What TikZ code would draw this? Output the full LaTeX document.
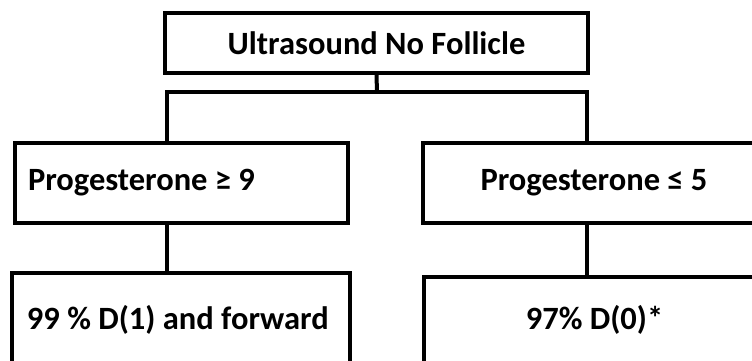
\documentclass[tikz,border=0pt]{standalone}
\usepackage{fontspec}
\setmainfont{Carlito}
\begin{document}
\begin{tikzpicture}[x=1pt,y=-1pt,
  box/.style={draw, line width=4pt, inner sep=0pt, font=\fontsize{32.5}{38}\selectfont\bfseries},
  conn/.style={line width=4pt}]
\useasboundingbox (0,0) rectangle (752,360);
\clip (0,0) rectangle (752,360);
\node[box, minimum width=423pt, minimum height=60pt] (top) at (376.5,43) {Ultrasound No Follicle};
\node[box, minimum width=333pt, minimum height=80pt] (lm) at (181.5,183) {\makebox[307pt][l]{Progesterone ≥ 9}};
\node[box, minimum width=342pt, minimum height=80pt] (rm) at (594,183) {Progesterone ≤ 5};
\node[box, minimum width=338pt, minimum height=94pt] (lb) at (181,320) {\makebox[308pt][l]{99 \% D(1) and forward}};
\node[box, minimum width=341pt, minimum height=86pt] (rb) at (594.5,320) {97\% D(0)*};
\coordinate (j) at (377,92);
\coordinate (cl) at (167,92);
\coordinate (cr) at (587,92);
\draw[conn] (top.south) -- (j);
\draw[conn] (cl |- lm.north) -- (cl) -- (cr) -- (cr |- rm.north);
\draw[conn] (cl |- lm.south) -- (cl |- lb.north);
\draw[conn] (cr |- rm.south) -- (cr |- rb.north);
\end{tikzpicture}
\end{document}
